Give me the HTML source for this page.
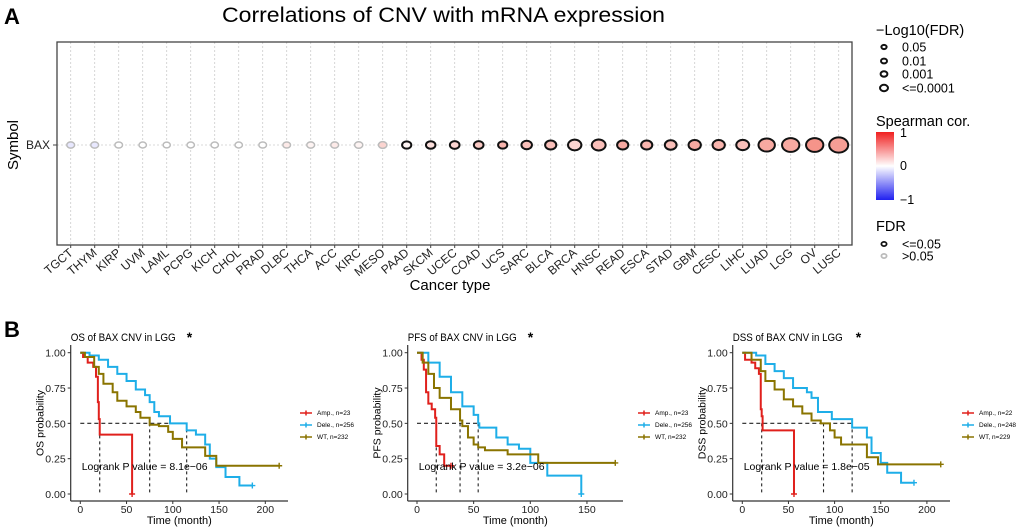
<!DOCTYPE html>
<html><head><meta charset="utf-8"><style>
html,body{margin:0;padding:0;background:#fff;}
svg{display:block;font-family:"Liberation Sans",Arial,sans-serif;}
</style></head><body>
<svg id="fig" width="1020" height="528" viewBox="0 0 1020 528"></svg>
<script>
const categories=["TGCT","THYM","KIRP","UVM","LAML","PCPG","KICH","CHOL","PRAD","DLBC","THCA","ACC","KIRC","MESO","PAAD","SKCM","UCEC","COAD","UCS","SARC","BLCA","BRCA","HNSC","READ","ESCA","STAD","GBM","CESC","LIHC","LUAD","LGG","OV","LUSC"];
const corValues=[-0.1,-0.1,0,0,0,0,0,0,0,0.1,0.05,0.1,0.05,0.2,0.05,0.15,0.2,0.25,0.35,0.3,0.3,0.2,0.3,0.4,0.35,0.3,0.4,0.35,0.3,0.4,0.4,0.5,0.45];
const logFdr=[0.5,0.5,0.4,0.3,0.2,0.3,0.3,0.3,0.4,0.4,0.5,0.5,0.7,0.9,1.5,1.8,2,2,1.5,3,4,8,9,4,4,5,6,6,7,16,19,19,25];
const yTickLabels=["0.00","0.25","0.50","0.75","1.00"];
const yTickValues=[0,0.25,0.5,0.75,1];
const osAmp=[[0,1],[3,0.97],[8,0.93],[14,0.9],[17,0.83],[19,0.65],[20,0.53],[21,0.42],[56,0.42],[56,0]];
const osDele=[[0,1],[10,0.98],[20,0.95],[30,0.9],[40,0.85],[50,0.8],[60,0.74],[70,0.7],[75,0.65],[80,0.58],[85,0.55],[97,0.55],[97,0.5],[115,0.5],[115,0.45],[125,0.42],[135,0.35],[140,0.25],[147,0.19],[157,0.19],[157,0.12],[172,0.12],[172,0.06],[186,0.06]];
const osWT=[[0,1],[5,0.97],[15,0.9],[20,0.85],[25,0.78],[35,0.72],[40,0.66],[50,0.62],[60,0.58],[65,0.54],[75,0.49],[85,0.48],[95,0.44],[100,0.39],[110,0.33],[135,0.33],[135,0.27],[147,0.27],[147,0.2],[215,0.2]];
const pfsAmp=[[0,1],[4,0.95],[6,0.88],[8,0.72],[10,0.64],[13,0.6],[16,0.54],[17,0.34],[20,0.28],[24,0.2],[30,0.2]];
const pfsDele=[[0,1],[10,0.93],[20,0.83],[30,0.72],[40,0.62],[50,0.56],[54,0.5],[55,0.47],[62,0.47],[70,0.4],[80,0.35],[90,0.32],[98,0.32],[100,0.22],[115,0.22],[115,0.13],[145,0.13],[145,0]];
const pfsWT=[[0,1],[5,0.93],[10,0.85],[15,0.75],[20,0.68],[30,0.6],[38,0.52],[40,0.48],[45,0.4],[50,0.35],[54,0.33],[60,0.31],[75,0.31],[80,0.28],[107,0.28],[107,0.22],[175,0.22]];
const dssAmp=[[0,1],[3,0.95],[10,0.93],[14,0.89],[18,0.85],[20,0.6],[21,0.55],[22,0.45],[56,0.45],[56,0]];
const dssDele=[[0,1],[15,0.98],[25,0.92],[35,0.87],[45,0.82],[55,0.75],[70,0.72],[75,0.68],[82,0.58],[97,0.58],[97,0.53],[119,0.53],[119,0.47],[130,0.47],[135,0.4],[140,0.29],[150,0.22],[157,0.22],[157,0.15],[172,0.15],[172,0.08],[186,0.08]];
const dssWT=[[0,1],[10,0.95],[20,0.87],[25,0.8],[35,0.74],[45,0.67],[55,0.62],[65,0.57],[75,0.52],[85,0.5],[88,0.5],[95,0.45],[100,0.4],[107,0.35],[135,0.35],[135,0.26],[147,0.26],[147,0.21],[215,0.21]];
const osMedians=[21,75,115];
const pfsMedians=[17,38,54];
const dssMedians=[21,88,119];
const osLegend=["Amp., n=23","Dele., n=256","WT, n=232"];
const pfsLegend=["Amp., n=23","Dele., n=256","WT, n=232"];
const dssLegend=["Amp., n=22","Dele., n=248","WT, n=229"];

const NS="http://www.w3.org/2000/svg";
const svg=document.getElementById("fig");
function mk(tag,attrs,parent,text){const e=document.createElementNS(NS,tag);for(const k in attrs)e.setAttribute(k,attrs[k]);if(text!==undefined)e.textContent=text;(parent||svg).appendChild(e);return e;}

let t=mk("text",{x:4,y:24,"font-size":22,"font-weight":"bold"},svg,"A");

t=mk("text",{x:222,y:22,"font-size":21,textLength:443,lengthAdjust:"spacingAndGlyphs"},svg,"Correlations of CNV with mRNA expression");

const pL=57,pR=852,pT=42,pB=245,rowY=145;
const xCat=i=>70.7+i*24;
let g=mk("g",{});
categories.forEach((c,i)=>{const l=mk("line",{x1:xCat(i),x2:xCat(i),y1:pT,y2:pB,stroke:"#ccc","stroke-width":0.8,"stroke-dasharray":"2,2"},g);});
let hl=mk("line",{x1:pL,x2:pR,y1:rowY,y2:rowY,stroke:"#ccc","stroke-width":0.8,"stroke-dasharray":"2,2"},g);

let box=mk("rect",{x:pL,y:pT,width:pR-pL,height:pB-pT,fill:"none",stroke:"#444","stroke-width":1.3});

function corColor(v){let r,gg,b;if(v>=0){r=Math.round(255-v*20);gg=Math.round(255-v*215);b=Math.round(255-v*235);}else{r=Math.round(255+v*235);gg=Math.round(255+v*235);b=255;}return `rgb(${r},${gg},${b})`;}
let bg=mk("g",{});
categories.forEach((c,i)=>{
 const rx=3+1.3*Math.sqrt(logFdr[i]);const sig=logFdr[i]>=1.3;
 const e=mk("ellipse",{cx:xCat(i),cy:rowY,rx:rx,ry:rx*0.8,fill:corColor(corValues[i]),stroke:sig?"#111":"#bbb","stroke-width":sig?2:1.5},bg);
 
 const tk=mk("line",{x1:xCat(i),x2:xCat(i),y1:pB,y2:pB+3,stroke:"#444"});
 
 const lb=mk("text",{x:xCat(i)+3,y:pB+9,"font-size":12,"text-anchor":"end",transform:`rotate(-40 ${xCat(i)+3} ${pB+9})`,fill:"#222"},svg,c);
 
});
t=mk("text",{x:450,y:290,"font-size":15,"text-anchor":"middle"},svg,"Cancer type");
t=mk("text",{x:18,y:145,"font-size":15,"text-anchor":"middle",transform:"rotate(-90 18 145)"},svg,"Symbol");
t=mk("text",{x:50,y:149,"font-size":12,"text-anchor":"end",fill:"#222"},svg,"BAX");
t=mk("line",{x1:53,x2:pL,y1:rowY,y2:rowY,stroke:"#444"});

let lg=mk("g",{});
t=mk("text",{x:876,y:35,"font-size":14.5},lg,"\u2212Log10(FDR)");
const sizeLabels=["0.05","0.01","0.001","<=0.0001"];const sizeR=[2.6,3,3.4,4];const sizeY=[47,61,74,88];
sizeLabels.forEach((s,i)=>{const c=mk("ellipse",{cx:884,cy:sizeY[i],rx:sizeR[i],ry:sizeR[i]*0.8,fill:"none",stroke:"#111","stroke-width":2},lg);
 const tx=mk("text",{x:902,y:sizeY[i]+4.5,"font-size":12.5},lg,s);});
let cg=mk("g",{});
t=mk("text",{x:876,y:126,"font-size":14.5},cg,"Spearman cor.");
const defs=mk("defs",{});const lgd=mk("linearGradient",{id:"cg",x1:0,y1:0,x2:0,y2:1},defs);
mk("stop",{offset:"0","stop-color":"#f02020"},lgd);mk("stop",{offset:"0.5","stop-color":"#fff"},lgd);mk("stop",{offset:"1","stop-color":"#2020f0"},lgd);
t=mk("rect",{x:876,y:132,width:18,height:68,fill:"url(#cg)"},cg);
[["1",137],["0",170],["\u22121",204]].forEach(a=>{const tx=mk("text",{x:900,y:a[1],"font-size":12.5},cg,a[0]);});
let fg=mk("g",{});
t=mk("text",{x:876,y:231,"font-size":14.5},fg,"FDR");
[["<=0.05",244,"#111"],[">0.05",256,"#bbb"]].forEach(a=>{const c=mk("ellipse",{cx:884,cy:a[1],rx:2.6,ry:2.1,fill:"none",stroke:a[2],"stroke-width":1.8},fg);
 const tx=mk("text",{x:902,y:a[1]+4.5,"font-size":12.5},fg,a[0]);});

t=mk("text",{x:4,y:337,"font-size":22,"font-weight":"bold"},svg,"B");
const colors=["#e0201c","#1eaee8","#8a7400"];
function km(cfg){
 const G=mk("g",{});
 const X=v=>cfg.x0+v*cfg.sx, Y=p=>494-p*141.3;
 let e=mk("text",{x:cfg.axL,y:341,"font-size":11,textLength:cfg.titleW,lengthAdjust:"spacingAndGlyphs"},G,cfg.title);
 e=mk("text",{x:cfg.axL+cfg.starDx,y:342,"font-size":14,"font-weight":"bold"},G,"*");
 e=mk("line",{x1:cfg.axL,x2:cfg.axL,y1:345,y2:501,stroke:"#333","stroke-width":1.2},G);
 e=mk("line",{x1:cfg.axL,x2:cfg.axR,y1:501,y2:501,stroke:"#333","stroke-width":1.2},G);
 yTickValues.forEach((v,i)=>{const tk=mk("line",{x1:cfg.axL-3,x2:cfg.axL,y1:Y(v),y2:Y(v),stroke:"#333"},G);
  const tx=mk("text",{x:cfg.axL-5,y:Y(v)+4,"font-size":10.5,"text-anchor":"end",fill:"#222"},G,yTickLabels[i]);});
 cfg.xticks.forEach(v=>{const tk=mk("line",{x1:X(v),x2:X(v),y1:501,y2:504,stroke:"#333"},G);
  const tx=mk("text",{x:X(v),y:513,"font-size":10.5,"text-anchor":"middle",fill:"#222"},G,String(v));});
 e=mk("text",{x:(cfg.axL+cfg.axR)/2,y:524,"font-size":11,"text-anchor":"middle"},G,"Time (month)");
 const yl=cfg.axL-27;
 e=mk("text",{x:yl,y:423,"font-size":10.5,"text-anchor":"middle",transform:`rotate(-90 ${yl} 423)`},G,cfg.ylab);
 const maxM=Math.max(...cfg.medians);
 e=mk("line",{x1:X(0),x2:X(maxM),y1:Y(0.5),y2:Y(0.5),stroke:"#222","stroke-width":1.1,"stroke-dasharray":"4,3"},G);
 cfg.medians.forEach(m=>{const l=mk("line",{x1:X(m),x2:X(m),y1:Y(0.5),y2:Y(0),stroke:"#222","stroke-width":1.1,"stroke-dasharray":"3,3"},G);});
 const names=["amp","dele","wt"];
 cfg.series.forEach((s,si)=>{let d="M"+X(s[0][0])+","+Y(s[0][1]);
  for(let k=1;k<s.length;k++){d+=" H"+X(s[k][0])+" V"+Y(s[k][1]);}
  const p=mk("path",{d:d,fill:"none",stroke:colors[si],"stroke-width":2},G);
  const last=s[s.length-1];
  const cm=mk("path",{d:`M${X(last[0])-3},${Y(last[1])} h6 M${X(last[0])},${Y(last[1])-3} v6`,stroke:colors[si],"stroke-width":1.4},G);
 });
 e=mk("text",{x:cfg.axL+11,y:470,"font-size":10.5},G,cfg.pval);
 cfg.legend.forEach((s,i)=>{const yy=413+i*12;
  const l=mk("path",{d:`M${cfg.lx},${yy} h12 M${cfg.lx+6},${yy-2.5} v5`,stroke:colors[i],"stroke-width":1.5},G);
  const tx=mk("text",{x:cfg.lx+17,y:yy+2,"font-size":6.5},G,s);});
}
km({name:"os-panel",title:"OS of BAX CNV in LGG",titleW:105,starDx:116,ylab:"OS probability",axL:70.7,axR:288,x0:80.3,sx:0.925,xticks:[0,50,100,150,200],series:[osAmp,osDele,osWT],medians:osMedians,pval:"Logrank P value = 8.1e\u221206",legend:osLegend,lx:300});
km({name:"pfs-panel",title:"PFS of BAX CNV in LGG",titleW:109,starDx:120,ylab:"PFS probability",axL:407.7,axR:623,x0:417,sx:1.133,xticks:[0,50,100,150],series:[pfsAmp,pfsDele,pfsWT],medians:pfsMedians,pval:"Logrank P value = 3.2e\u221206",legend:pfsLegend,lx:638});
km({name:"dss-panel",title:"DSS of BAX CNV in LGG",titleW:110,starDx:123,ylab:"DSS probability",axL:732.7,axR:950,x0:742.3,sx:0.923,xticks:[0,50,100,150,200],series:[dssAmp,dssDele,dssWT],medians:dssMedians,pval:"Logrank P value = 1.8e\u221205",legend:dssLegend,lx:962});
</script>
</body></html>
